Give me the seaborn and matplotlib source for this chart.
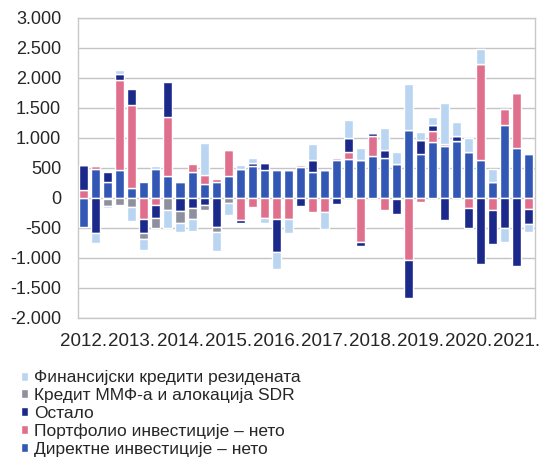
import numpy as np
import matplotlib
matplotlib.use("Agg")
import matplotlib.pyplot as plt
import seaborn as sns
from matplotlib.ticker import FuncFormatter

# === Data (quarterly, 2012 Q1 - 2021 Q2) ===
year_labels = ["2012.", "2013.", "2014.", "2015.", "2016.",
               "2017.", "2018.", "2019.", "2020.", "2021."]

direct = [-480, 480, 270, 460, 170, 270, 475, 365, 265, 435,
          240, 265, 370, 490, 530, 465, 460, 460, 510, 435,
          460, 630, 655, 630, 700, 667, 565, 1130, 730, 935,
          860, 950, 767, 628, 267, 1212, 840, 728]
portfolio = [140, 60, -20, 1510, 1375, -360, -110, 985, 0, 135,
             135, 50, 430, -370, -150, -335, -360, -350, 35, -233,
             -235, 30, 110, -735, 330, -195, -15, -1030, -65, 185,
             35, 0, -170, 1612, -195, 278, 910, -178]
other = [410, -590, 160, 100, 265, -220, -220, 585, -220, -170,
         -115, -485, 0, -45, 50, 115, -535, 0, -130, 195,
         0, -100, 235, -70, 45, 130, -260, -645, 235, 95,
         -365, 85, -340, -1100, -575, -510, -1140, -255]
imf = [0, 0, -110, -120, -150, -110, -170, -195, -200, -185,
       -90, -80, -85, 0, 0, 0, 0, 0, 0, 0,
       0, 0, 0, 0, 0, 0, 0, 0, 0, 0,
       0, 0, 0, 0, 0, 0, 0, 0]
fin_credits = [0, -160, -40, 55, -235, -180, 55, -315, -150, -190,
               535, -320, -200, 60, 85, -85, -285, -230, 0, 265,
               -280, 0, 295, 195, 0, 370, 200, 765, 130, 140,
               690, 230, 230, 250, 210, -220, 0, -135]

series_names = ["Директне инвестиције – нето",
                "Портфолио инвестиције – нето",
                "Остало",
                "Кредит ММФ-а и алокација SDR",
                "Финансијски кредити резидената"]
series_values = [direct, portfolio, other, imf, fin_credits]
colors = ["#3257b5", "#df6f8c", "#1b2a8a", "#8e909e", "#b9d5f2"]

sns.set_style("white")
plt.rcParams["font.family"] = ["Liberation Sans", "DejaVu Sans"]

fig = plt.figure(figsize=(5.44, 4.73), dpi=100)
ax = fig.add_axes([0.143, 0.328, 0.84, 0.634])

x = np.arange(len(direct))
pos_base = np.zeros(len(x))
neg_base = np.zeros(len(x))
handles = []
for name, vals, col in zip(series_names, series_values, colors):
    v = np.array(vals, dtype=float)
    bottom = np.where(v >= 0, pos_base, neg_base)
    b = ax.bar(x, v, bottom=bottom, width=0.75, color=col, label=name, zorder=3)
    handles.append(b)
    pos_base += np.where(v >= 0, v, 0)
    neg_base += np.where(v < 0, v, 0)

ax.set_ylim(-2000, 3000)
ax.set_yticks(np.arange(-2000, 3001, 500))
ax.yaxis.set_major_formatter(FuncFormatter(lambda v, p: f"{v:,.0f}".replace(",", ".")))
ax.set_xlim(-0.5, len(x) - 0.5)
ax.set_xticks(np.arange(0, len(x), 4))
ax.set_xticklabels(year_labels)
ax.set_xticks(np.arange(3.5, len(x) - 1, 4), minor=True)
ax.tick_params(axis="x", which="major", length=0, pad=11, labelsize=13.5)
ax.tick_params(axis="x", which="minor", length=4, color="#b0b0b0", direction="out")
ax.tick_params(axis="y", length=0, pad=12, labelsize=13)
ax.yaxis.grid(True, color="#c4c4c4", linewidth=1.0, zorder=0)
for s in ax.spines.values():
    s.set_color("#c8c8c8")
    s.set_linewidth(1.0)

leg = fig.legend(handles[::-1], series_names[::-1], loc="upper left",
                 bbox_to_anchor=(0.038, 0.217), frameon=False, fontsize=12.5,
                 handlelength=0.42, handleheight=0.42, handletextpad=0.35,
                 labelspacing=0.16, borderaxespad=0, borderpad=0)

plt.savefig("out.png", dpi=100)
